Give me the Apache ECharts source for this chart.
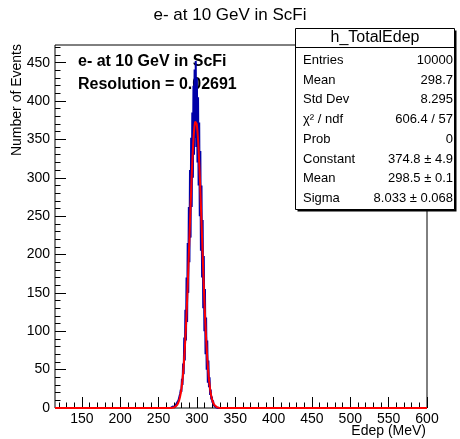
<!DOCTYPE html>
<html><head><meta charset="utf-8">
<script src="https://cdn.jsdelivr.net/npm/echarts@6/dist/echarts.min.js"></script>
<style>html,body{margin:0;padding:0;background:#fff}#c{width:460px;height:439px}</style>
</head><body><div id="c"></div>
<script>
// ---- data ----
const titleText = 'e- at 10 GeV in ScFi';
const noteLines = ['e- at 10 GeV in ScFi', 'Resolution = 0.02691'];
const xTitle = 'Edep (MeV)';
const yTitle = 'Number of Events';
const xRange = [115, 600];
const yRange = [0, 473];
const xMajorTicks = [150, 200, 250, 300, 350, 400, 450, 500, 550, 600];
const xMinorTicks = [120, 130, 140, 160, 170, 180, 190, 210, 220, 230, 240, 260, 270, 280, 290, 310, 320, 330, 340, 360, 370, 380, 390, 410, 420, 430, 440, 460, 470, 480, 490, 510, 520, 530, 540, 560, 570, 580, 590];
const yMajorTicks = [0, 50, 100, 150, 200, 250, 300, 350, 400, 450];
const yMinorTicks = [10, 20, 30, 40, 60, 70, 80, 90, 110, 120, 130, 140, 160, 170, 180, 190, 210, 220, 230, 240, 260, 270, 280, 290, 310, 320, 330, 340, 360, 370, 380, 390, 410, 420, 430, 440, 460, 470];
const binStart = 262.5;
const binWidth = 0.75;
const counts = [0, 0, 0, 1, 0, 0, 1, 0, 2, 0, 1, 3, 1, 2, 5, 3, 7, 4, 10, 12,
  9, 19, 24, 21, 38, 30, 58, 44, 92, 62, 128, 88, 170, 112, 215, 150, 262, 190, 310, 222,
  352, 262, 385, 300, 420, 330, 441, 352, 452, 340, 430, 320, 405, 290, 372, 250, 335, 205, 290, 170,
  245, 130, 198, 100, 155, 70, 118, 50, 88, 33, 62, 27, 40, 17, 24, 11, 15, 7, 10, 4,
  6, 2, 4, 1, 2, 0, 1, 0, 1];
const fitConstant = 374.8;
const fitMean = 298.5;
const fitSigma = 8.033;
const statsTitle = 'h_TotalEdep';
const statsLabels = ['Entries', 'Mean', 'Std Dev', 'χ² / ndf', 'Prob', 'Constant', 'Mean', 'Sigma'];
const statsValues = ['10000', '298.7', '8.295', '606.4 / 57', '0', '374.8 ± 4.9', '298.5 ± 0.1', '8.033 ± 0.068'];

// ---- build ----
const FONT = "'Liberation Sans', Arial, Helvetica, sans-serif";
const histPts = [[xRange[0], 0], [binStart, 0]];
counts.forEach((c, k) => histPts.push([binStart + k * binWidth, c]));
histPts.push([binStart + counts.length * binWidth, 0]);
histPts.push([xRange[1], 0]);

const fitPts = [[xRange[0], 0]];
for (let x = 250; x <= 350; x += 0.25) {
  fitPts.push([x, fitConstant * Math.exp(-0.5 * Math.pow((x - fitMean) / fitSigma, 2))]);
}
fitPts.push([xRange[1], 0]);

const G = {left: 55, top: 45, width: 372, height: 363};
const graphics = [];
graphics.push({type: 'text', x: 17, y: 44, rotation: Math.PI / 2,
  style: {text: yTitle, font: `14px ${FONT}`, fill: '#000', align: 'right', verticalAlign: 'middle'}});
graphics.push({type: 'text', x: 426, y: 431,
  style: {text: xTitle, font: `14px ${FONT}`, fill: '#000', align: 'right', verticalAlign: 'middle'}});
noteLines.forEach((t, i) => graphics.push({type: 'text', x: 78, y: 62 + i * 23,
  style: {text: t, font: `bold 16px ${FONT}`, fill: '#000', align: 'left', verticalAlign: 'middle'}}));
// stats box
const SB = {x: 295.5, y: 28.5, w: 159, h: 181};
graphics.push({type: 'rect', shape: {x: SB.x + 2, y: SB.y + 2, width: SB.w, height: SB.h}, style: {fill: '#000'}, z: 10});
graphics.push({type: 'rect', shape: {x: SB.x, y: SB.y, width: SB.w, height: SB.h}, style: {fill: '#fff', stroke: '#000', lineWidth: 1}, z: 11});
graphics.push({type: 'line', shape: {x1: SB.x, y1: 47.5, x2: SB.x + SB.w, y2: 47.5}, style: {stroke: '#000', lineWidth: 1}, z: 12});
graphics.push({type: 'text', x: SB.x + SB.w / 2, y: 38, z: 12,
  style: {text: statsTitle, font: `16px ${FONT}`, fill: '#000', align: 'center', verticalAlign: 'middle'}});
statsLabels.forEach((t, i) => {
  graphics.push({type: 'text', x: 303, y: 60.5 + i * 19.7, z: 12,
    style: {text: t, font: `13px ${FONT}`, fill: '#000', align: 'left', verticalAlign: 'middle'}});
  graphics.push({type: 'text', x: 453, y: 60.5 + i * 19.7, z: 12,
    style: {text: statsValues[i], font: `13px ${FONT}`, fill: '#000', align: 'right', verticalAlign: 'middle'}});
});

const tickStyle = {color: '#000', width: 1};
const chart = echarts.init(document.getElementById('c'), null, {renderer: 'canvas'});
chart.setOption({
  backgroundColor: '#fff',
  animation: false,
  title: {text: titleText, left: 'center', top: 2,
    textStyle: {fontFamily: FONT, fontSize: 17, fontWeight: 'normal', color: '#000'}},
  grid: {left: G.left, top: G.top, width: G.width, height: G.height, show: true,
    borderColor: '#000', borderWidth: 1, backgroundColor: 'transparent', containLabel: false},
  xAxis: [
    {type: 'value', min: xRange[0], max: xRange[1], axisLine: {show: false}, splitLine: {show: false},
      axisTick: {show: true, inside: true, length: 11, lineStyle: tickStyle, customValues: xMajorTicks},
      axisLabel: {show: true, customValues: xMajorTicks, fontFamily: FONT, fontSize: 14, color: '#000', margin: 4}},
    {type: 'value', min: xRange[0], max: xRange[1], position: 'bottom', axisLine: {show: false}, splitLine: {show: false},
      axisTick: {show: true, inside: true, length: 5.5, lineStyle: tickStyle, customValues: xMinorTicks},
      axisLabel: {show: false}}
  ],
  yAxis: [
    {type: 'value', min: yRange[0], max: yRange[1], axisLine: {show: false}, splitLine: {show: false},
      axisTick: {show: true, inside: true, length: 11, lineStyle: tickStyle, customValues: yMajorTicks},
      axisLabel: {show: true, customValues: yMajorTicks, fontFamily: FONT, fontSize: 14, color: '#000', margin: 5}},
    {type: 'value', min: yRange[0], max: yRange[1], position: 'left', axisLine: {show: false}, splitLine: {show: false},
      axisTick: {show: true, inside: true, length: 5.5, lineStyle: tickStyle, customValues: yMinorTicks},
      axisLabel: {show: false}}
  ],
  series: [
    {type: 'line', xAxisIndex: 0, yAxisIndex: 0, data: histPts, step: 'end', showSymbol: false,
      lineStyle: {color: '#0000a8', width: 2}, silent: true, z: 3},
    {type: 'line', xAxisIndex: 0, yAxisIndex: 0, data: fitPts, showSymbol: false, smooth: false,
      lineStyle: {color: '#ff0000', width: 2}, silent: true, z: 4}
  ],
  graphic: graphics
});
</script></body></html>
